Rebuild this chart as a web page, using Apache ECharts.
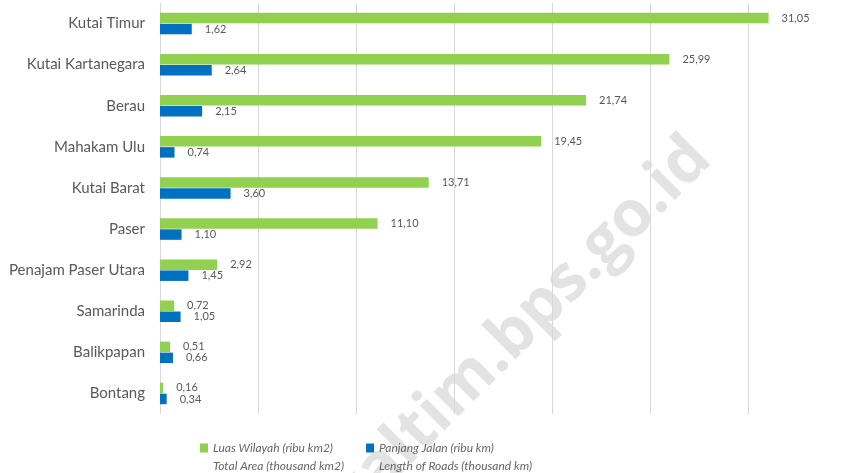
<!DOCTYPE html>
<html>
<head>
<meta charset="utf-8">
<script src="https://cdn.jsdelivr.net/npm/echarts@6/dist/echarts.min.js"></script>
<style>html,body{margin:0;padding:0;background:#fff;}#c{width:846px;height:473px;}</style>
</head>
<body>
<div id="c"></div>
<script>
const categories = ['Kutai Timur','Kutai Kartanegara','Berau','Mahakam Ulu','Kutai Barat','Paser','Penajam Paser Utara','Samarinda','Balikpapan','Bontang'];
const luasWilayah = [31.05,25.99,21.74,19.45,13.71,11.10,2.92,0.72,0.51,0.16];
const panjangJalan = [1.62,2.64,2.15,0.74,3.60,1.10,1.45,1.05,0.66,0.34];
const seriesNames = ['Luas Wilayah (ribu km2)','Panjang Jalan (ribu km)'];
const seriesSubNames = ['Total Area (thousand km2)','Length of Roads (thousand km)'];
const xMin = 0, xMax = 35, xInterval = 5;

const fmt = p => p.value.toFixed(2).replace('.', ',');
const chart = echarts.init(document.getElementById('c'));
chart.setOption({
  animation: false,
  grid: {left: 160, top: 3, width: 689, height: 411, containLabel: false},
  xAxis: {
    type: 'value', min: xMin, max: xMax, interval: xInterval,
    axisLabel: {show: false}, axisLine: {show: false}, axisTick: {show: false},
    splitLine: {lineStyle: {color: '#d9d9d9', width: 1}}
  },
  yAxis: {
    type: 'category', data: categories, inverse: true,
    axisLine: {lineStyle: {color: '#d9d9d9'}}, axisTick: {show: false},
    axisLabel: {color: '#595959', fontSize: 15, fontFamily: 'Lato', margin: 15}
  },
  legend: {
    left: 195, top: 434, itemWidth: 8, itemHeight: 27, itemGap: 22,
    icon: 'path://M0,0H8V9H0Z M0,27L8,27',
    formatter: name => name + '\n' + seriesSubNames[seriesNames.indexOf(name)],
    textStyle: {color: '#666666', fontSize: 12, fontStyle: 'italic', fontFamily: 'Lato', lineHeight: 18}
  },
  graphic: [{
    type: 'text', x: 520, y: 329, rotation: 45 * Math.PI / 180, z: -10, silent: true,
    style: {text: 'kaltim.bps.go.id', fill: '#e3e3e3', font: 'bold 64px "Open Sans"', align: 'center', verticalAlign: 'middle'}
  }],
  series: [
    {name: seriesNames[0], type: 'bar', data: luasWilayah, barWidth: 10.5, barGap: '5%',
     itemStyle: {color: '#92D050'},
     label: {show: true, position: 'right', distance: 13, formatter: fmt, color: '#595959', fontSize: 11, fontFamily: 'Lato'}},
    {name: seriesNames[1], type: 'bar', data: panjangJalan, barWidth: 10.5, barGap: '5%',
     itemStyle: {color: '#0070C0'},
     label: {show: true, position: 'right', distance: 13, formatter: fmt, color: '#595959', fontSize: 11, fontFamily: 'Lato'}}
  ]
});
</script>
</body>
</html>
